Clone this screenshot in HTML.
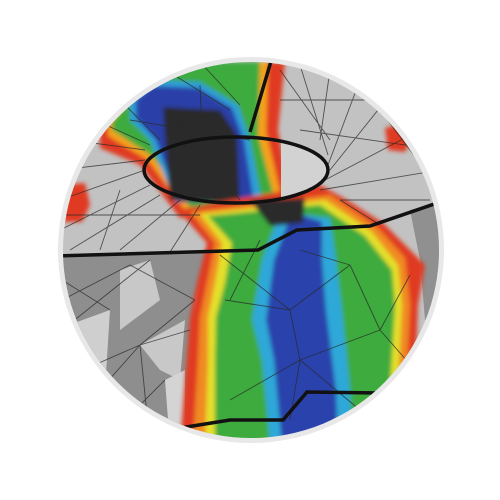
<!DOCTYPE html>
<html><head><meta charset="utf-8"><style>
html,body{margin:0;padding:0;background:#fff;width:500px;height:500px;overflow:hidden}
</style></head><body>
<svg width="500" height="500" viewBox="0 0 500 500">
<defs>
<clipPath id="c"><circle cx="251" cy="250" r="188"/></clipPath>
<clipPath id="e"><ellipse cx="236" cy="170" rx="92" ry="33"/></clipPath>
<filter id="b" x="-10%" y="-10%" width="120%" height="120%"><feGaussianBlur stdDeviation="2.2"/></filter>
</defs>
<circle cx="251" cy="250" r="193" fill="#e8e8e8"/>
<g clip-path="url(#c)">
<rect x="0" y="0" width="500" height="500" fill="#c2c2c2"/>
<polygon points="55,256 258,250 210,250 195,300 185,445 55,445" fill="#8e8e8e"/>
<polygon points="55,330 110,310 105,390 55,400" fill="#cfcfcf"/>
<polygon points="120,270 150,260 160,300 120,330" fill="#c8c8c8"/>
<polygon points="140,345 185,320 180,380 160,370" fill="#c8c8c8"/>
<polygon points="165,380 185,370 185,445 170,445" fill="#d4d4d4"/>
<polygon points="410,210 450,200 450,330 425,320 420,260" fill="#909090"/>
<g filter="url(#b)">
<g>
<polygon points="100,120 150,62 285,62 278,130 292,205 180,218 140,165 100,148" fill="#e03a22"/>
<polygon points="108,122 155,62 268,62 266,132 282,200 186,212 148,160 108,136" fill="#f5a21e"/>
<polygon points="112,122 160,62 260,62 258,135 275,200 190,207 152,156 112,130" fill="#3cab3c"/>
<polygon points="130,98 150,80 200,82 238,105 250,140 262,202 175,202 150,140 130,120" fill="#2f9fd8"/>
<polygon points="136,100 152,86 198,88 232,108 244,140 254,202 178,202 156,140 136,118" fill="#2a3fa8"/>
<polygon points="163,107 220,110 237,135 240,203 170,200 165,140" fill="#2b2b2b"/>
</g>
<g>
<polygon points="178,210 230,200 320,185 347,200 383,223 410,250 425,265 418,305 415,385 420,445 180,445 185,380 190,317 197,283 207,243" fill="#e03a22"/>
<polygon points="190,212 330,195 378,228 405,258 410,305 406,385 410,445 193,445 198,360 200,317 207,283 215,243" fill="#f08a20"/>
<polygon points="200,214 325,200 372,232 398,265 402,305 398,385 400,445 205,445 208,360 208,317 215,283 222,243" fill="#e4e02a"/>
<polygon points="208,216 320,205 365,236 392,270 395,305 390,390 395,445 215,445 215,360 216,317 225,283 232,243" fill="#3cab3c"/>
<polygon points="280,212 330,218 336,260 342,310 350,390 352,445 270,445 262,360 252,320 262,260" fill="#2fa8d8"/>
<polygon points="292,212 322,222 322,260 326,310 336,390 338,445 282,445 274,360 266,320 274,260" fill="#2a42ac"/>
<polygon points="250,200 305,198 303,223 270,226" fill="#2b2b2b"/>
</g>
<polygon points="63,185 85,183 90,205 82,222 63,222" fill="#e03a22"/>
<polygon points="385,128 400,124 412,138 405,152 388,150" fill="#e03a22"/>
</g>
<rect x="281" y="130" width="60" height="80" fill="#d2d2d2" clip-path="url(#e)"/>
<g stroke="#2a2a2a" stroke-width="0.9" fill="none" opacity="0.75">
<path d="M60,200 L145,170 M60,230 L150,185 M70,250 L160,195 M120,250 L180,200 M170,252 L200,205 M60,170 L145,160 M70,140 L145,150 M95,120 L150,145 M120,100 L160,140 M60,215 L200,215 M100,250 L120,190"/>
<path d="M280,70 L330,140 M300,65 L328,155 M330,70 L320,140 M360,80 L328,165 M390,95 L330,170 M420,130 L325,180 M440,170 L320,190 M430,200 L340,200 M280,100 L440,100 M300,130 L440,150 M340,200 L380,225 M380,110 L440,190"/>
<path d="M62,300 L130,265 L195,300 M62,330 L150,260 M100,390 L140,345 L190,330 M140,345 L150,445 M100,445 L165,380 M60,380 L140,345 M195,300 L140,345 M62,280 L110,310"/>
<path d="M220,255 L290,310 L350,265 M225,300 L290,310 L300,360 M300,360 L380,330 L410,275 M300,360 L230,400 M300,360 L360,410 M380,330 L415,370 M350,265 L380,330 M260,240 L230,300 M300,250 L350,265 M300,360 L290,420"/>
<path d="M170,110 L240,200 M200,85 L205,200 M150,60 L230,110 M200,62 L240,105 M130,120 L250,140"/>
</g>
<g stroke="#111" stroke-width="3.5" fill="none">
<path d="M55,256 L258,250 L297,230 L370,226 L440,202"/>
<path d="M272,58 L250,132"/>
<path d="M180,428 L230,420 L283,420 L307,392 L380,393 L440,390"/>
<ellipse cx="236" cy="170" rx="92" ry="33"/>
</g>
</g>
</svg>
</body></html>
